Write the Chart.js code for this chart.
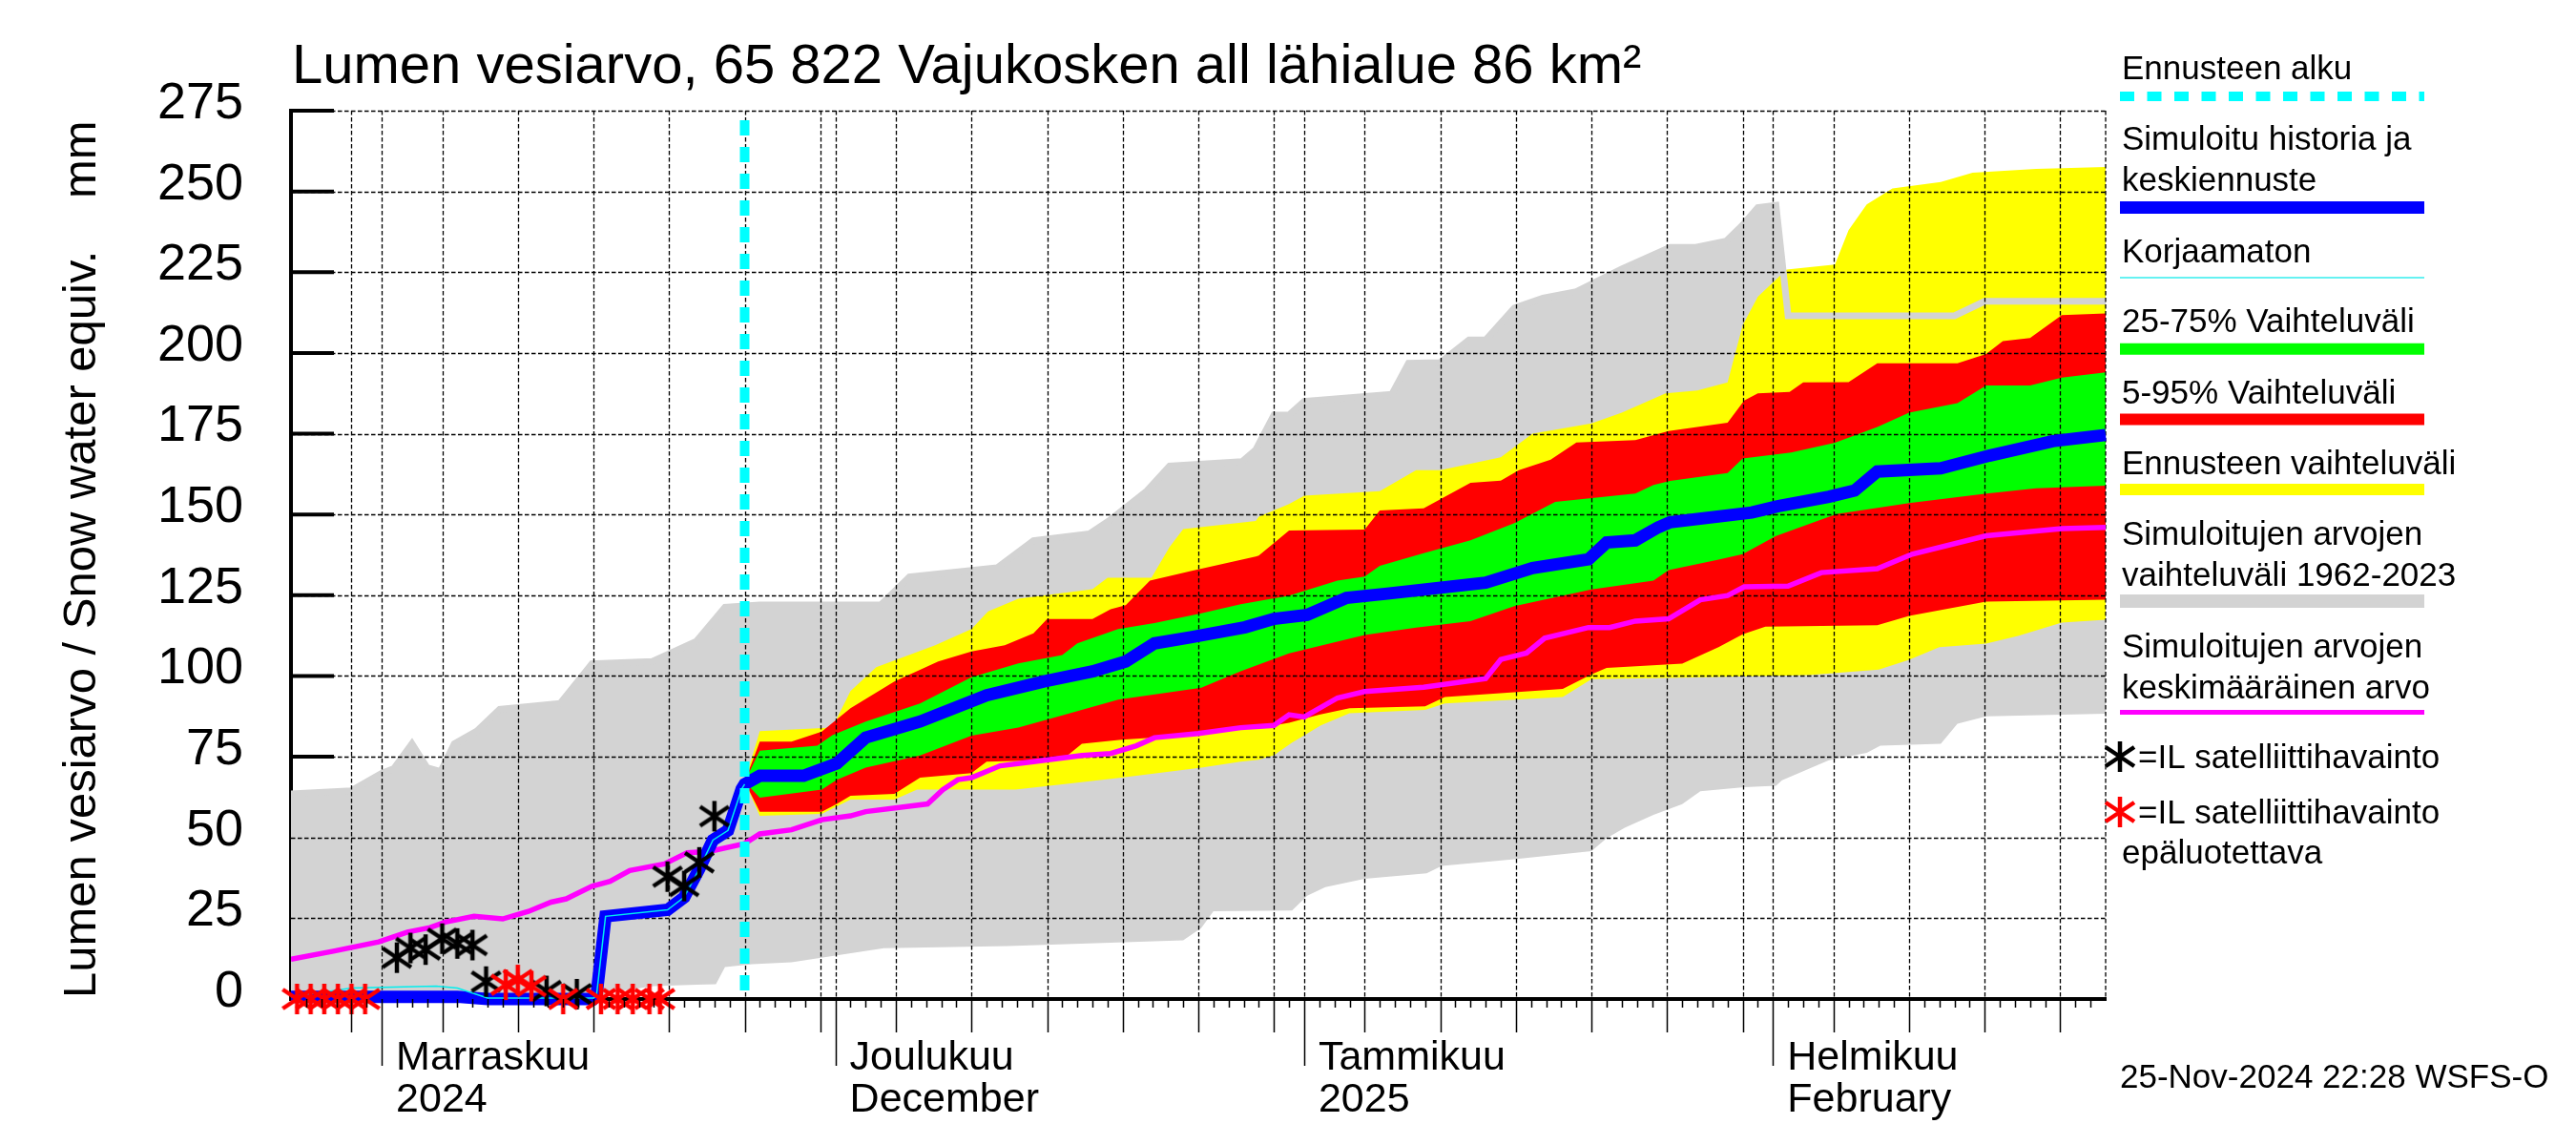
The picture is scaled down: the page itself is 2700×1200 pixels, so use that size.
<!DOCTYPE html>
<html>
<head>
<meta charset="utf-8">
<script src="https://cdn.jsdelivr.net/npm/chart.js@4.4.1/dist/chart.umd.min.js"></script>
<style>
  html, body { margin: 0; padding: 0; background: #fff; }
  #wrap { width: 2700px; height: 1200px; }
</style>
</head>
<body>
<div id="wrap"><canvas id="snowChart" width="2700" height="1200"></canvas></div>
<script>
// x = päiviä 26.10.2024 alkaen (0) ... 23.2.2025 (120)
const xMin = 0, xMax = 120;
const forecastStart = 30;
const monthStarts = [6, 36, 67, 98];
const monthNames = ['Marraskuu', 'Joulukuu', 'Tammikuu', 'Helmikuu'];
const monthSub = ['2024', 'December', '2025', 'February'];
const gridDays = [4, 6, 10, 15, 20, 25, 30, 35, 36, 40, 45, 50, 55, 60, 65, 67, 71, 76, 81, 86, 91, 96, 98, 102, 107, 112, 117];
const yTicks = [0, 25, 50, 75, 100, 125, 150, 175, 200, 225, 250, 275];

// simuloitujen arvojen vaihteluväli 1962-2023
const greyMin = [[0,0],[20,0],[21,2],[24,4],[26.8,4.4],[28.1,4.6],[28.7,9.9],[30.5,10.8],[33.1,11.4],[39.2,15.7],[47.4,16.4],[59,18.2],[60.2,22],[61,27.2],[66.2,27.4],[67.2,32],[68.4,34.6],[71,37.2],[75.1,38.9],[76.1,41.2],[80.9,43.3],[86,45.8],[87,49.8],[88.2,53],[90.1,57],[92,60.3],[93.2,64.3],[96.1,65.6],[98.2,66],[98.6,67.7],[101.7,73.9],[104.2,76.2],[105.1,78.4],[109.1,79],[110.2,85.2],[112.1,87.5],[120,88.3]];
const greyMax = [[0,63.5],[4,64.5],[6,69.9],[6.8,71.3],[8,79],[9,71.6],[9.9,70.4],[10.8,79],[12.3,83],[13.8,89.7],[17.8,91.5],[19.9,103.8],[23.9,104.5],[26.8,110.7],[28.7,121.3],[31,122],[39,122],[40.9,130.7],[46.7,133.5],[49.1,141.9],[52.8,144],[54.2,148.4],[56.6,157.3],[58.1,165],[62.9,166.4],[63.8,170],[65,180.8],[66,180.8],[67,185],[72.8,187.2],[73.9,196.8],[76,197],[77.9,204],[79,204],[80.9,213.9],[82.8,217],[85,219],[88,226],[91.2,232.7],[92.9,232.7],[94.9,234.6],[96,239.6],[97,245],[98.2,245.7],[99,211.5],[110,211.5],[112,216],[120,216]];

// ennusteen vaihteluväli
const yellowMin = [[30,67.3],[31,56.7],[35.1,57.3],[37,61.7],[39.9,61.7],[41.4,64.8],[47.9,64.8],[51.3,66.6],[54.9,68.5],[60.2,71.6],[62.8,73.5],[64,74.1],[65,75.5],[66.2,79.4],[68.1,84.7],[70,88.5],[75,89.5],[76.3,91.5],[84.1,93.5],[86,99],[92,99.5],[100.4,100.3],[105,102],[107,105],[109,108.9],[112.1,110],[114.2,112.4],[117.1,116.5],[120,117.4]];
const yellowMax = [[30,67.3],[31,82.9],[35.8,84],[37,95.3],[38.7,102.7],[42.6,109.5],[45,114.5],[46.1,120],[48.1,123.9],[53,126.9],[54,130.4],[56.9,130.4],[58.1,139.9],[59,145.5],[63.8,148],[64,149.3],[66,153.2],[67,155.8],[72,157.2],[74.4,163.7],[76,163.7],[80,167.7],[82.1,175],[86,178.2],[88,181.5],[90.9,187.5],[93,188.4],[95,190.9],[96,208.6],[97,217.4],[98.9,225.8],[102.1,227.4],[103,238],[104.2,246],[105.9,250.9],[109.1,252.9],[111.2,255.8],[115.4,257],[120,257.6]];

// 5-95 %
const redMin = [[30,67.3],[31,58],[35.1,58],[36.1,60.4],[37,62.9],[39.9,63.5],[41.6,68.5],[45,69.9],[46,73.5],[51,74.1],[52.3,79],[54.9,80.3],[57.1,80.9],[62.8,84],[65,84.7],[66,85.5],[68,88],[70,90],[75,90.6],[76.3,93.5],[84.1,96],[86,100.5],[87,102.5],[92,103.8],[94.4,108.9],[96,112.9],[97.5,115.3],[104.9,115.7],[107,118.6],[112.1,123],[120,123.6]];
const redMax = [[30,67.3],[31,79.7],[33.1,79.7],[35.1,82.8],[37,90],[39.9,98.3],[42.8,104.5],[45,107.6],[47.2,109.5],[49.1,113.2],[50,117.6],[53,117.6],[54.2,120.7],[55.2,121.9],[56.8,129.5],[59.5,132.5],[63.8,137],[64,137.3],[66,145],[71,145.3],[72,151.2],[74.9,151.9],[78,159.8],[80,160.5],[81.2,163.7],[83.3,167],[85,172.3],[88.9,173],[91.1,175.8],[95,178.4],[96.1,185.3],[97,187.5],[99.1,187.9],[100,190.9],[103,191],[104.9,196.8],[110.2,196.8],[112.1,199.7],[113.2,203.7],[115,204.6],[117.1,211.7],[120,212.2]];

// 25-75 %
const greenMin = [[30,67.3],[31,62.3],[35.1,64.8],[36.1,67.9],[38,71.6],[41.6,75.4],[45,81.5],[48.1,84],[51,87.8],[54.7,92.7],[60.2,96.4],[62.8,101.5],[66,107],[71,112.7],[74.4,115],[78,117],[80.9,121.6],[86,126.8],[90.1,129.5],[91.1,132.8],[94.4,136],[96,137.7],[98.2,143.3],[102.2,150.1],[107,153.5],[112,156.4],[115.4,158.1],[120,158.9]];
const greenMax = [[30,67.3],[31,76.9],[34.8,78.4],[35.8,81.7],[38,85.9],[41.6,91.5],[45,99.6],[48.1,103.9],[51,106.5],[52,110.1],[54.7,114.5],[57.1,116.4],[60.2,119.4],[62.8,122.2],[66,124.9],[69.2,129.5],[71,130.8],[72,134.1],[74.9,138],[78,142],[80.9,147.3],[83.6,153.9],[88.9,156.5],[90.1,159.1],[91.2,160.4],[95,162.8],[96,167.3],[99.2,169.2],[102.1,172.2],[104.9,177.1],[107,181.5],[110.2,184.5],[112.1,189.9],[115,189.9],[117.1,192.4],[120,194]];

// simuloitujen arvojen keskiarvo
const meanLine = [[0,12.3],[2.8,14.8],[5.8,17.7],[7.7,20.7],[9.2,22.1],[10.2,23.8],[12.1,25.6],[14,24.8],[15.7,27.1],[17.2,30],[18.2,31],[19.9,34.9],[21.1,36.4],[22.4,39.8],[24.7,41.8],[26.2,45.3],[27.7,45.7],[30,48.1],[31,51.1],[33.1,52.4],[35.1,55.5],[37,56.7],[38,58],[42.1,60.4],[43.1,64.8],[44.1,67.9],[45,68.5],[46.9,72.2],[49.1,73.5],[52.3,75.4],[54.2,76],[55.9,78.4],[57.1,80.9],[60,82.2],[62.8,84],[65,84.7],[66,88],[67,87.3],[69.2,93.2],[71,95.2],[74.9,96.5],[79,99.2],[80,105.1],[81.7,107.1],[82.9,111.7],[85.8,115],[87.2,115],[88.9,117],[91.1,117.7],[93.2,123.6],[95,124.9],[96.1,127.6],[99,127.8],[101.2,132],[104.9,133.2],[107.2,137.7],[112.1,143.4],[117.1,145.6],[120,146]];

// simuloitu historia ja keskiennuste
const simLine = [[0,0.7],[11,0.7],[13,0],[20,0],[20.2,1],[20.8,25.6],[24.9,27.6],[26,31.5],[27,40.3],[27.9,49.2],[28.9,52.2],[29.8,65],[30,66.5],[31,69.1],[33.9,69.1],[36.1,72.9],[38,80.9],[41.6,85.9],[46,94],[49.8,98.3],[53,101.4],[55.2,104.5],[57.1,110.1],[59.5,112],[63.1,115.1],[65,117.7],[67.2,118.9],[69.8,124.2],[72.5,125.5],[79,128.9],[82.1,133.4],[85.8,136.1],[87,141.3],[88.9,142],[90.4,146],[91.2,147.6],[96.6,150.6],[98.3,152.5],[101.7,155.5],[103.4,157.4],[104.9,163.3],[109.1,164.3],[112.3,168.2],[116.5,172.7],[120,174.6]];

// korjaamaton
const rawLine = [[0,0.7],[4,3.4],[9.6,4],[11,3.4],[13,0.3],[20,0.3],[20.2,1],[20.8,25.6],[24.9,27.6],[26,31.5],[27,40.3],[27.9,49.2],[28.9,52.2],[29.8,65],[30,66.5]];

// IL satelliittihavainnot
const obsDays = [7, 7.9, 8.9, 10, 11, 12, 12.9, 16.9, 18.9, 24.9, 26, 27, 28];
const obsVals = [12.8, 15.8, 15.3, 18.7, 17.2, 16.7, 5.4, 2.5, 1.5, 37.9, 35, 42.3, 56.6];
const badDays = [0.4, 1.3, 2.2, 3.1, 4.0, 4.9, 14.2, 15, 15.9, 18, 20.5, 21.6, 22.6, 23.7, 24.4];
const badVals = [0, 0, 0, 0, 0, 0, 4.4, 5.9, 4, 0, 0, 0, 0, 0, 0];

const FONT = '"Liberation Sans", Arial, Helvetica, sans-serif';
Chart.defaults.font.family = FONT;

function starGlyph(color) {
    const c = document.createElement('canvas');
    c.width = 36; c.height = 36;
    const g = c.getContext('2d');
    g.strokeStyle = color;
    g.lineWidth = 4.5;
    g.beginPath();
    g.moveTo(18, 2); g.lineTo(18, 34);
    g.moveTo(3, 8); g.lineTo(33, 28);
    g.moveTo(33, 8); g.lineTo(3, 28);
    g.stroke();
    return c;
}
const blackStar = starGlyph('#000000');
const redStar = starGlyph('#ff0000');

const pts = a => a.map(p => ({ x: p[0], y: p[1] }));
const zip = (xs, ys) => xs.map((x, i) => ({ x: x, y: ys[i] }));

function edge(data, order) {
    return { data: pts(data), order: order, borderWidth: 0, borderColor: 'rgba(0,0,0,0)', pointRadius: 0, fill: false };
}
function band(data, order, color) {
    return { data: pts(data), order: order, borderWidth: 0, borderColor: 'rgba(0,0,0,0)', pointRadius: 0, fill: '-1', backgroundColor: color };
}

const datasets = [
    edge(greyMin, 10), band(greyMax, 10, '#d3d3d3'),
    edge(yellowMin, 9), band(yellowMax, 9, '#ffff00'),
    edge(redMin, 8), band(redMax, 8, '#ff0000'),
    edge(greenMin, 7), band(greenMax, 7, '#00ff00'),
    { data: pts(greyMax), order: 6, borderColor: '#d3d3d3', borderWidth: 7, pointRadius: 0, fill: false },
    { data: pts(meanLine), order: 5, borderColor: '#ff00ff', borderWidth: 5.5, pointRadius: 0, fill: false },
    { data: pts(simLine), order: 4, borderColor: '#0000ff', borderWidth: 13, pointRadius: 0, fill: false, clip: false },
    { data: pts(rawLine), order: 3, borderColor: '#00eeee', borderWidth: 1.5, pointRadius: 0, fill: false, clip: false },
    { data: zip(obsDays, obsVals), order: 2, showLine: false, pointStyle: blackStar, pointRadius: 16, clip: false },
    { data: zip(badDays, badVals), order: 1, showLine: false, pointStyle: redStar, pointRadius: 16, clip: false }
];
const MEAN_INDEX = 9;

const legendItems = [
    { text: ['Ennusteen alku'], base: 83, line: { y: 101, w: 10, color: '#00ffff', dash: [15, 13.5] } },
    { text: ['Simuloitu historia ja', 'keskiennuste'], base: 157, line: { y: 217.5, w: 13, color: '#0000ff' } },
    { text: ['Korjaamaton'], base: 275, line: { y: 291, w: 1.5, color: '#33eeee' } },
    { text: ['25-75% Vaihteluväli'], base: 348, line: { y: 365.7, w: 12, color: '#00ff00' } },
    { text: ['5-95% Vaihteluväli'], base: 422.7, line: { y: 439.5, w: 12, color: '#ff0000' } },
    { text: ['Ennusteen vaihteluväli'], base: 497.3, line: { y: 513, w: 12, color: '#ffff00' } },
    { text: ['Simuloitujen arvojen', 'vaihteluväli 1962-2023'], base: 571, line: { y: 630, w: 14, color: '#d3d3d3' } },
    { text: ['Simuloitujen arvojen', 'keskimääräinen arvo'], base: 688.7, line: { y: 746.5, w: 5, color: '#ff00ff' } }
];

const framePlugin = {
    id: 'frame',
    beforeDatasetsDraw(chart) {
        const { ctx, chartArea: a, scales: { y } } = chart;
        ctx.save();
        ctx.strokeStyle = '#000';
        ctx.lineWidth = 4;
        yTicks.forEach(v => {
            if (v === 0) return;
            const py = y.getPixelForValue(v);
            ctx.beginPath(); ctx.moveTo(a.left, py); ctx.lineTo(a.left + 45, py); ctx.stroke();
        });
        ctx.restore();
    },
    beforeDatasetDraw(chart, args) {
        if (args.index !== MEAN_INDEX) return;
        const { ctx, chartArea: a, scales: { x, y } } = chart;
        ctx.save();
        ctx.strokeStyle = '#000';
        ctx.lineWidth = 1.3;
        ctx.setLineDash([4.5, 2.5]);
        ctx.beginPath();
        yTicks.forEach(v => {
            if (v === 0) return;
            const py = Math.round(y.getPixelForValue(v)) + 0.5;
            ctx.moveTo(a.left, py); ctx.lineTo(a.right, py);
        });
        gridDays.forEach(d => {
            const px = Math.round(x.getPixelForValue(d)) + 0.5;
            ctx.moveTo(px, a.top); ctx.lineTo(px, a.bottom);
        });
        ctx.moveTo(a.right, a.top); ctx.lineTo(a.right, a.bottom);
        ctx.stroke();
        ctx.restore();
    },
    afterDatasetsDraw(chart) {
        const { ctx, chartArea: a, scales: { x } } = chart;
        ctx.save();
        // ennusteen alku
        const fx = x.getPixelForValue(forecastStart);
        ctx.strokeStyle = '#00ffff';
        ctx.lineWidth = 10;
        ctx.setLineDash([16, 12]);
        ctx.beginPath(); ctx.moveTo(fx, a.top + 10); ctx.lineTo(fx, a.bottom); ctx.stroke();
        ctx.setLineDash([]);

        // päivä-, 5 päivän ja kuukausimerkit
        ctx.strokeStyle = '#000';
        ctx.lineWidth = 1.5;
        ctx.beginPath();
        for (let d = xMin + 1; d < xMax; d++) {
            const px = Math.round(x.getPixelForValue(d)) + 0.5;
            let len = 9;
            if (monthStarts.includes(d)) len = 70;
            else if (gridDays.includes(d)) len = 35;
            ctx.moveTo(px, a.bottom); ctx.lineTo(px, a.bottom + len);
        }
        ctx.stroke();

        ctx.fillStyle = '#000';
        ctx.textBaseline = 'alphabetic';
        ctx.textAlign = 'left';
        ctx.font = '43px ' + FONT;
        monthStarts.forEach((d, i) => {
            const px = x.getPixelForValue(d) + 15;
            ctx.fillText(monthNames[i], px, 1121);
            ctx.fillText(monthSub[i], px, 1165);
        });

        ctx.font = '58px ' + FONT;
        ctx.fillText('Lumen vesiarvo, 65 822 Vajukosken all lähialue 86 km²', 306, 87);

        ctx.save();
        ctx.translate(100, 1046);
        ctx.rotate(-Math.PI / 2);
        ctx.font = '49px ' + FONT;
        ctx.fillText('Lumen vesiarvo / Snow water equiv.    mm', 0, 0);
        ctx.restore();

        // selite
        const lx0 = 2222, lx1 = 2541;
        ctx.font = '35px ' + FONT;
        legendItems.forEach(item => {
            item.text.forEach((t, k) => ctx.fillText(t, 2224, item.base + k * 43));
            const l = item.line;
            ctx.strokeStyle = l.color;
            ctx.lineWidth = l.w;
            ctx.setLineDash(l.dash || []);
            ctx.beginPath(); ctx.moveTo(lx0, l.y); ctx.lineTo(lx1, l.y); ctx.stroke();
        });
        ctx.setLineDash([]);
        ctx.drawImage(blackStar, 2222 - 18, 793 - 18);
        ctx.fillText('=IL satelliittihavainto', 2241, 804.6);
        ctx.drawImage(redStar, 2222 - 18, 851 - 18);
        ctx.fillText('=IL satelliittihavainto', 2241, 863);
        ctx.fillText('epäluotettava', 2224, 905);

        ctx.fillText('25-Nov-2024 22:28 WSFS-O', 2222, 1140);
        ctx.restore();
    }
};

new Chart(document.getElementById('snowChart'), {
    type: 'line',
    data: { datasets: datasets },
    options: {
        responsive: false,
        devicePixelRatio: 1,
        animation: false,
        events: [],
        layout: { padding: { left: 0, top: 116, right: 493, bottom: 153 } },
        elements: { line: { tension: 0 }, point: { radius: 0 } },
        plugins: { legend: { display: false }, title: { display: false }, tooltip: { enabled: false } },
        scales: {
            x: {
                type: 'linear', min: xMin, max: xMax,
                grid: { display: false, drawTicks: false },
                border: { display: true, color: '#000', width: 4 },
                ticks: { display: false },
                afterFit: s => { s.height = 0; }
            },
            y: {
                type: 'linear', min: 0, max: 275,
                grid: { display: false, drawTicks: false },
                border: { display: true, color: '#000', width: 4 },
                afterBuildTicks: s => { s.ticks = yTicks.map(v => ({ value: v })); },
                ticks: { padding: 50, labelOffset: -7, color: '#000', font: { size: 54 } },
                afterFit: s => { s.width = 305; }
            }
        }
    },
    plugins: [framePlugin]
});
</script>
</body>
</html>
